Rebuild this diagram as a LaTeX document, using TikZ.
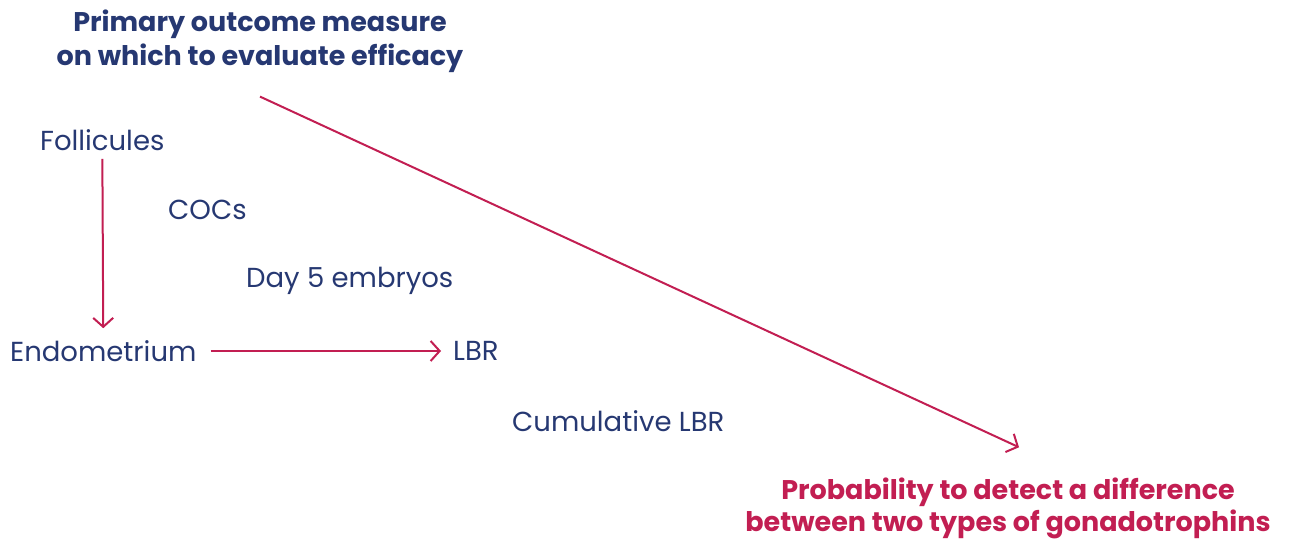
\documentclass[tikz,border=0pt]{standalone}
\usepackage{fontspec}
\setmainfont{Poppins}
\usetikzlibrary{arrows.meta}
\usetikzlibrary{positioning}
\definecolor{navy}{RGB}{38,56,114}
\definecolor{berry}{RGB}{194,30,82}
\tikzset{
	item/.style = {text = navy, font = \fontsize{27.5}{32}\selectfont, inner sep = 0pt, anchor = west},
	heading/.style = {font = \bfseries\fontsize{27}{34}\selectfont, align = center, inner sep = 0pt},
	link/.style = {draw = berry, line width = 2pt, ->}
}

\begin{document}
\begin{tikzpicture}[>={Straight Barb[length=9pt,width=20pt]}, x=1pt, y=-1pt]
			\useasboundingbox (0,0) rectangle (1290,538);
			\node[heading, text = navy] (title) at (260,41) {Primary outcome measure\\on which to evaluate efficacy};
			\node[heading, text = berry, font = \bfseries\fontsize{27}{32}\selectfont] (prob) at (1008,508) {Probability to detect a difference\\between two types of gonadotrophins};
			\node[item] (fol) at (40,140) {Follicules};
			\node[item] (cocs) at (168,210) {COCs};
			\node[item] (emb) at (246,281) {Day 5 embryos};
			\node[item] (endo) at (10,351) {Endometrium};
			\node[item] (lbr) at (453,351) {LBR};
			\node[item] (cum) at (512,421) {Cumulative LBR};
			\coordinate (dstart) at ([yshift=-24pt]title.south);
			\coordinate (dend) at ([xshift=11pt,yshift=30pt]prob.north);
			\draw[link, shorten <=8pt, shorten >=12pt] (fol.south) -- (endo.north);
			\draw[link, shorten <=14pt, shorten >=12pt] (endo.east) -- (lbr.west);
			\draw[link] (dstart) -- (dend);
		\end{tikzpicture}
\end{document}
